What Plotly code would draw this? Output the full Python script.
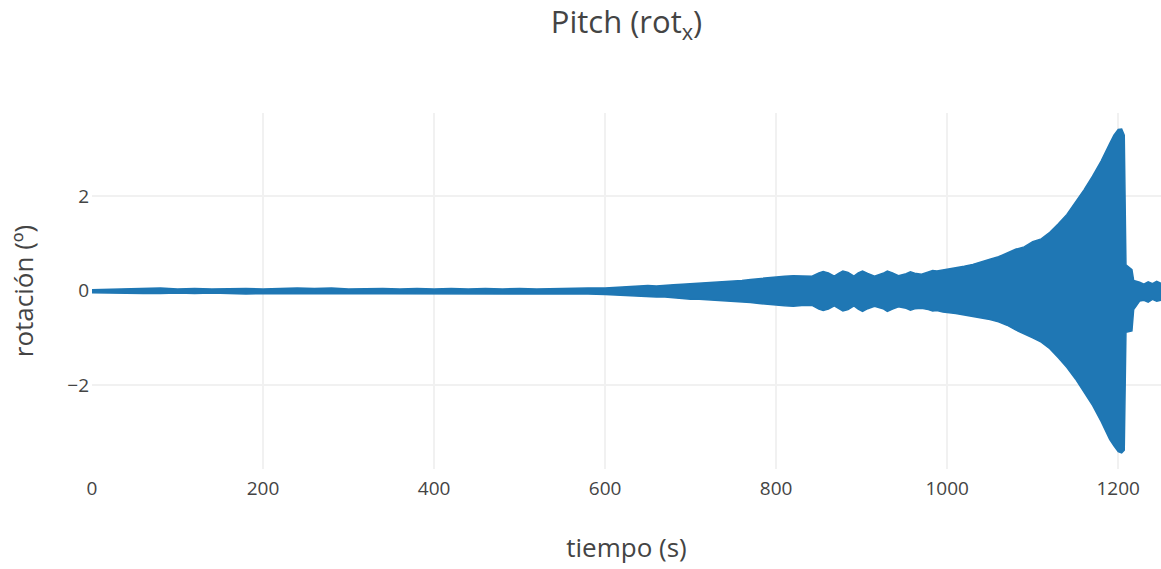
import plotly.graph_objects as go

# Envelope of the pitch signal
tiempo = [0, 20, 40, 60, 80, 100, 120, 140, 160, 180, 200, 220, 240, 260, 280, 300,
          320, 340, 360, 380, 400, 420, 440, 460, 480, 500, 520, 540, 560, 580,
          600, 610, 620, 630, 640, 650, 660, 670, 680, 690, 700, 710, 720, 730, 740,
          750, 760, 770, 780, 790, 800, 810, 820, 830, 842, 850, 855, 861, 868, 873, 878,
          884, 891, 896, 901, 907, 915, 925, 930, 936, 943, 952, 957, 962, 970, 978, 983,
          988, 995, 1010, 1020, 1030, 1040, 1050, 1060, 1070,
          1080, 1090, 1100, 1110, 1120, 1130, 1140, 1150, 1160, 1170, 1180, 1190, 1195,
          1200, 1204, 1207, 1209, 1216, 1218, 1225, 1230, 1235, 1240, 1245, 1250]

env_sup = [0.02, 0.03, 0.03, 0.05, 0.06, 0.04, 0.05, 0.04, 0.05, 0.05, 0.04, 0.05, 0.06, 0.05, 0.06, 0.04,
           0.05, 0.05, 0.04, 0.05, 0.04, 0.05, 0.04, 0.05, 0.04, 0.05, 0.04, 0.05, 0.05, 0.06,
           0.06, 0.07, 0.08, 0.09, 0.09, 0.11, 0.10, 0.12, 0.13, 0.14, 0.15, 0.16, 0.17, 0.19, 0.20,
           0.21, 0.22, 0.24, 0.26, 0.28, 0.30, 0.31, 0.32, 0.31, 0.31, 0.38, 0.41, 0.38, 0.31, 0.37, 0.42,
           0.39, 0.31, 0.38, 0.42, 0.37, 0.31, 0.37, 0.42, 0.38, 0.32, 0.36, 0.40, 0.37, 0.35, 0.40, 0.43,
           0.42, 0.44, 0.48, 0.52, 0.56, 0.62, 0.67, 0.72, 0.80,
           0.88, 0.93, 1.04, 1.10, 1.24, 1.42, 1.62, 1.88, 2.14, 2.43, 2.75, 3.12, 3.30,
           3.42, 3.43, 3.30, 0.55, 0.45, 0.22, 0.18, 0.14, 0.19, 0.15, 0.20, 0.16]

env_inf = [-0.04, -0.05, -0.05, -0.06, -0.06, -0.05, -0.06, -0.05, -0.06, -0.07, -0.06, -0.06, -0.07, -0.07, -0.06, -0.06,
           -0.06, -0.06, -0.07, -0.06, -0.06, -0.07, -0.06, -0.06, -0.06, -0.06, -0.06, -0.07, -0.06, -0.07,
           -0.08, -0.09, -0.10, -0.11, -0.11, -0.12, -0.13, -0.13, -0.15, -0.16, -0.18, -0.18, -0.19, -0.21, -0.21,
           -0.23, -0.24, -0.25, -0.27, -0.29, -0.30, -0.32, -0.33, -0.31, -0.31, -0.39, -0.42, -0.39, -0.32, -0.38, -0.43,
           -0.40, -0.32, -0.39, -0.44, -0.38, -0.33, -0.38, -0.44, -0.39, -0.34, -0.37, -0.41, -0.38, -0.37, -0.40, -0.43,
           -0.42, -0.45, -0.48, -0.51, -0.54, -0.58, -0.61, -0.66, -0.73,
           -0.83, -0.91, -1.00, -1.09, -1.23, -1.42, -1.63, -1.87, -2.14, -2.43, -2.77, -3.15, -3.29,
           -3.41, -3.44, -3.38, -0.88, -0.85, -0.40, -0.22, -0.20, -0.24, -0.18, -0.22, -0.20]

x_ticks = [0, 200, 400, 600, 800, 1000, 1200]
y_ticks = [-2, 0, 2]

color = "#1f77b4"

fig = go.Figure()
fig.add_trace(go.Scatter(x=tiempo, y=env_inf, mode="lines",
                         line=dict(color=color, width=1.5), showlegend=False, hoverinfo="skip"))
fig.add_trace(go.Scatter(x=tiempo, y=env_sup, mode="lines", fill="tonexty", fillcolor=color,
                         line=dict(color=color, width=1.5), showlegend=False, hoverinfo="skip"))

fig.update_layout(
    width=1161, height=569,
    margin=dict(l=92, r=0, t=113, b=100),
    paper_bgcolor="white", plot_bgcolor="white",
    font=dict(family="Open Sans", color="#444", size=19),
    title=dict(text="Pitch (rot<sub>x</sub>)", x=0.5, xref="paper", y=0.961, yref="container",
               xanchor="center", yanchor="middle", font=dict(size=31, color="#444")),
    xaxis=dict(title=dict(text="tiempo (s)", font=dict(size=26), standoff=38), range=[0, 1250],
               tickvals=x_ticks, showgrid=True, gridcolor="#f1f1f1", ticklabelstandoff=6,
               gridwidth=1.5, zeroline=False, showline=False, ticks="", automargin=False),
    yaxis=dict(title=dict(text="rotación (º)", font=dict(size=26), standoff=26), range=[-3.78, 3.77],
               tickvals=y_ticks, showgrid=True, gridcolor="#f1f1f1", gridwidth=1.5, ticklabelstandoff=2,
               zeroline=False, showline=False, ticks="", automargin=False),
)

fig.write_html("out.html")
